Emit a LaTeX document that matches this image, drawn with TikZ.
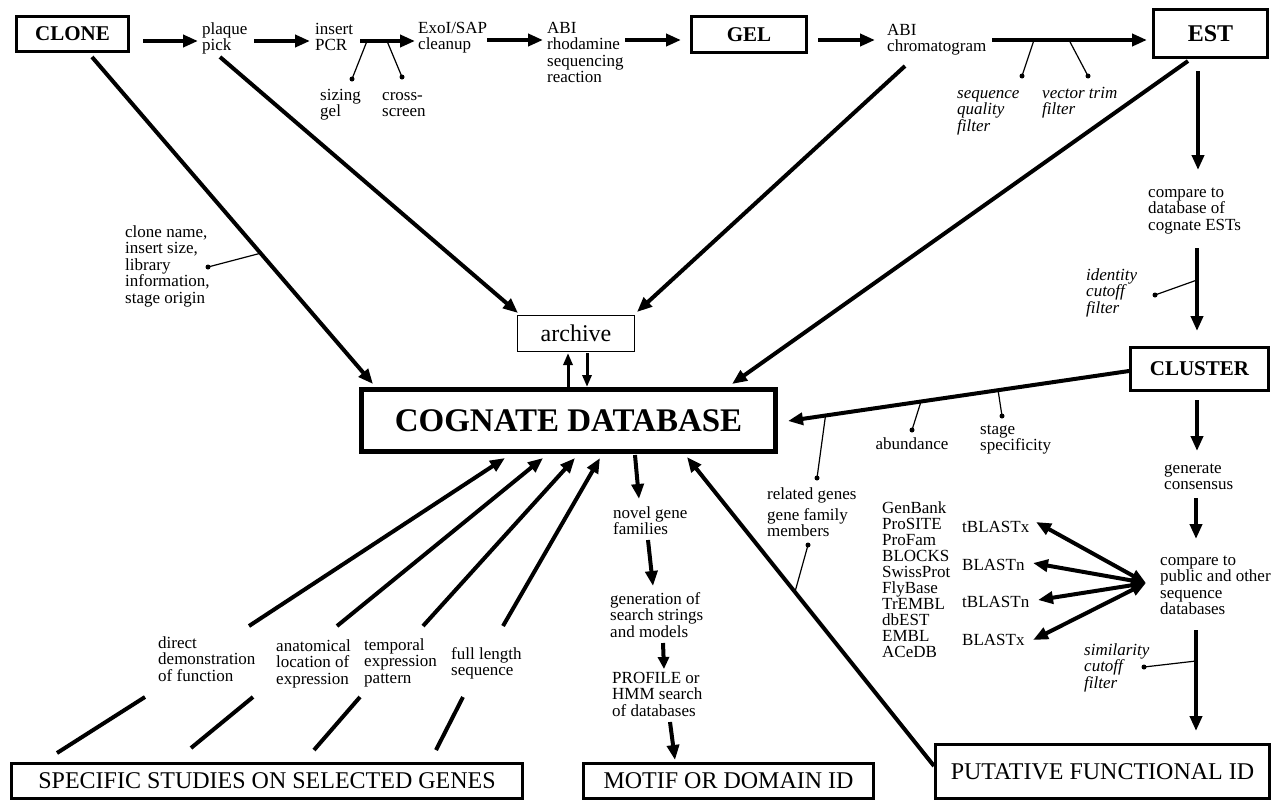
\documentclass[tikz,border=0pt]{standalone}
\usepackage{fontspec}
\setmainfont{Liberation Serif}
\usetikzlibrary{arrows.meta,calc}
\begin{document}
\begin{tikzpicture}[x=1pt,y=-1pt,
  txt/.style={inner sep=0pt, align=left, anchor=base west, font=\fontsize{17}{16.5}\selectfont},
  itx/.style={inner sep=0pt, align=left, anchor=base west, font=\fontsize{17}{16.5}\selectfont\itshape},
  bigbox/.style={draw, line width=3.5pt, inner sep=0pt, font=\fontsize{21}{21}\selectfont\bfseries},
  endbox/.style={draw, line width=3pt, inner sep=0pt, font=\fontsize{24}{24}\selectfont},
  flow/.style={line width=4pt, -{Triangle[length=15pt,width=12pt]}},
  plainline/.style={line width=4pt},
  twoway/.style={line width=4pt, {Triangle[length=15pt,width=12pt]}-{Triangle[length=15pt,width=12pt]}},
  pinline/.style={line width=1.2pt},
  dotmark/.style={circle, fill, inner sep=0pt, minimum size=5pt}
]
\useasboundingbox (0,0) rectangle (1279,804);

% ---------- boxes ----------
\node[bigbox, minimum width=112pt, minimum height=35pt] (clone) at (72.5,34) {CLONE};
\node[bigbox, minimum width=115pt, minimum height=36pt] (gel) at (749,34.5) {GEL};
\node[bigbox, minimum width=114pt, minimum height=48pt, font=\fontsize{24}{24}\selectfont\bfseries] (est) at (1210.5,33.5) {EST};
\node[draw, line width=1pt, minimum width=117pt, minimum height=36pt, inner sep=0pt, font=\fontsize{24}{24}\selectfont] (archive) at (576,333.5) {archive};
\node[draw, line width=5pt, minimum width=414pt, minimum height=62pt, inner sep=0pt, font=\fontsize{33}{33}\selectfont\bfseries] (cog) at (568.5,420.5) {COGNATE DATABASE};
\node[bigbox, minimum width=138pt, minimum height=43pt] (cluster) at (1199.5,369) {CLUSTER};
\node[endbox, minimum width=334pt, minimum height=54pt] (put) at (1102.5,771.5) {PUTATIVE FUNCTIONAL ID};
\node[endbox, minimum width=290pt, minimum height=35pt] (motif) at (728.5,781) {MOTIF OR DOMAIN ID};
\node[endbox, minimum width=511pt, minimum height=35pt] (spec) at (267,781) {SPECIFIC STUDIES ON SELECTED GENES};

% ---------- texts (anchored at the baseline of the last line) ----------
\node[txt] (plaque) at (202,50.5) {plaque\\pick};
\node[txt] (pcr) at (315,50.5) {insert\\PCR};
\node[txt] (exo) at (418,49.5) {ExoI/SAP\\cleanup};
\node[txt] (abi) at (547,82.5) {ABI\\rhodamine\\sequencing\\reaction};
\node[txt] (chrom) at (887,51.5) {ABI\\chromatogram};
\node[txt] (sizing) at (320,116.5) {sizing\\gel};
\node[txt] (cross) at (382,116.5) {cross-\\screen};
\node[itx] (sqf) at (957,131) {sequence\\quality\\filter};
\node[itx] (vtf) at (1042,114.5) {vector trim\\filter};
\node[txt] (cinfo) at (125,303) {clone name,\\insert size,\\library\\information,\\stage origin};
\node[txt] (cmpest) at (1148,230) {compare to\\database of\\cognate ESTs};
\node[itx] (icf) at (1086,313) {identity\\cutoff\\filter};
\node[txt, anchor=base] (abund) at (912,449) {abundance};
\node[txt] (stage) at (980,450.5) {stage\\specificity};
\node[txt] (gencons) at (1164,489.5) {generate\\consensus};
\node[txt] (related) at (767,499) {related genes};
\node[txt] (family) at (767,536.5) {gene family\\members};
\node[txt] (novel) at (613,534.5) {novel gene\\families};
\node[txt] (genstr) at (610,637) {generation of\\search strings\\and models};
\node[txt] (profile) at (612,716) {PROFILE or\\HMM search\\of databases};
\node[txt, font=\fontsize{17}{16}\selectfont] (dblist) at (882,657) {GenBank\\ProSITE\\ProFam\\BLOCKS\\SwissProt\\FlyBase\\TrEMBL\\dbEST\\EMBL\\ACeDB};
\node[txt] (tbx) at (962,532) {tBLASTx};
\node[txt] (bn) at (962,570) {BLASTn};
\node[txt] (tbn) at (962,607) {tBLASTn};
\node[txt] (bx) at (962,645) {BLASTx};
\node[txt] (cmppub) at (1160,614.5) {compare to\\public and other\\sequence\\databases};
\node[itx] (scf) at (1084,688) {similarity\\cutoff\\filter};
\node[txt] (direct) at (158,681) {direct\\demonstration\\of function};
\node[txt] (anat) at (276,684) {anatomical\\location of\\expression};
\node[txt] (temp) at (364,683) {temporal\\expression\\pattern};
\node[txt] (full) at (451,675.5) {full length\\sequence};

% ---------- top row ----------
\coordinate (a1s) at (143,41); \coordinate (a1e) at (198,41);
\coordinate (a2s) at (254,41); \coordinate (a2e) at (310,41);
\coordinate (a3s) at (360,41); \coordinate (a3e) at (415,41);
\coordinate (a4s) at (487,40); \coordinate (a4e) at (543,40);
\coordinate (a5s) at (625,40); \coordinate (a5e) at (681,40);
\coordinate (a6s) at (818,40); \coordinate (a6e) at (875,40);
\coordinate (a7s) at (992,40); \coordinate (a7e) at (1147,40);
\draw[flow] (a1s) -- (a1e);
\draw[flow] (a2s) -- (a2e);
\draw[flow] (a3s) -- (a3e);
\draw[flow] (a4s) -- (a4e);
\draw[flow] (a5s) -- (a5e);
\draw[flow] (a6s) -- (a6e);
\draw[flow] (a7s) -- (a7e);
\coordinate (p1) at (367,41); \node[dotmark] (d1) at (352,79) {};
\coordinate (p2) at (387,41); \node[dotmark] (d2) at (402,77) {};
\coordinate (p3) at (1034,40); \node[dotmark] (d3) at (1022,76) {};
\coordinate (p4) at (1069,40); \node[dotmark] (d4) at (1088,76) {};
\draw[pinline] (p1) -- (d1.center);
\draw[pinline] (p2) -- (d2.center);
\draw[pinline] (p3) -- (d3.center);
\draw[pinline] (p4) -- (d4.center);

% ---------- diagonals into archive / database ----------
\coordinate (c1s) at (92,57);   \coordinate (c1e) at (373,384);
\coordinate (c2s) at (220,57);  \coordinate (c2e) at (518,313);
\coordinate (c3s) at (905,66);  \coordinate (c3e) at (637,312);
\coordinate (c4s) at (1188,61); \coordinate (c4e) at (732,384);
\draw[flow] (c1s) -- (c1e);
\draw[flow] (c2s) -- (c2e);
\draw[flow] (c3s) -- (c3e);
\draw[flow] (c4s) -- (c4e);
\coordinate (p5) at ($(c1s)!0.6!(c1e)$); \node[dotmark] (d5) at (208,267) {};
\draw[pinline] (p5) -- (d5.center);

% archive <-> database
\coordinate (u1s) at (568,387); \coordinate (u1e) at (568,353);
\coordinate (u2s) at (587,353); \coordinate (u2e) at (587,387);
\draw[line width=3pt, -{Triangle[length=12pt,width=9pt]}] (u1s) -- (u1e);
\draw[line width=3pt, -{Triangle[length=12pt,width=9pt]}] (u2s) -- (u2e);

% ---------- right column ----------
\coordinate (r1s) at (1198,71);  \coordinate (r1e) at (1198,170);
\coordinate (r2s) at (1197,248); \coordinate (r2e) at (1197,331);
\coordinate (r3s) at (1197,400); \coordinate (r3e) at (1197,451);
\coordinate (r4s) at (1196,498); \coordinate (r4e) at (1196,539);
\coordinate (r5s) at (1196,630); \coordinate (r5e) at (1196,731);
\draw[flow] (r1s) -- (r1e);
\draw[flow] (r2s) -- (r2e);
\draw[flow] (r3s) -- (r3e);
\draw[flow] (r4s) -- (r4e);
\draw[flow] (r5s) -- (r5e);
\coordinate (p6) at (1197,280); \node[dotmark] (d6) at (1155,295) {};
\draw[pinline] (p6) -- (d6.center);
\coordinate (p7) at (1196,661); \node[dotmark] (d7) at (1144,667) {};
\draw[pinline] (p7) -- (d7.center);

% cluster -> database
\coordinate (k1s) at (1129,371); \coordinate (k1e) at (788,421);
\draw[flow] (k1s) -- (k1e);
\coordinate (p8) at ($(k1s)!0.61!(k1e)$); \node[dotmark] (d8) at (912,430) {};
\coordinate (p9) at ($(k1s)!0.384!(k1e)$); \node[dotmark] (d9) at (1002,416) {};
\coordinate (p10) at ($(k1s)!0.89!(k1e)$); \node[dotmark] (d10) at (817,478) {};
\draw[pinline] (p8) -- (d8.center);
\draw[pinline] (p9) -- (d9.center);
\draw[pinline] (p10) -- (d10.center);

% hub of BLAST arrows
\coordinate (hub) at (1146,583);
\coordinate (h1) at (1036,522);
\coordinate (h2) at (1033,563);
\coordinate (h3) at (1038,600);
\coordinate (h4) at (1033,640);
\draw[twoway] (h1) -- (hub);
\draw[twoway] (h2) -- (hub);
\draw[twoway] (h3) -- (hub);
\draw[twoway] (h4) -- (hub);

% putative -> database
\coordinate (q1s) at (934,766); \coordinate (q1e) at (687,457);
\draw[flow] (q1s) -- (q1e);
\coordinate (p11) at ($(q1s)!0.563!(q1e)$); \node[dotmark] (d11) at (808,545) {};
\draw[pinline] (p11) -- (d11.center);

% ---------- motif column ----------
\coordinate (m1s) at (635,455); \coordinate (m1e) at (639,499);
\coordinate (m2s) at (648,540); \coordinate (m2e) at (653,586);
\coordinate (m3s) at (663,643); \coordinate (m3e) at (664,669);
\coordinate (m4s) at (670,722); \coordinate (m4e) at (675,760);
\draw[flow] (m1s) -- (m1e);
\draw[flow] (m2s) -- (m2e);
\draw[flow, -{Triangle[length=12pt,width=11pt]}] (m3s) -- (m3e);
\draw[flow] (m4s) -- (m4e);

% ---------- specific studies ----------
\coordinate (s1s) at (249,626); \coordinate (s1e) at (505,458);
\coordinate (s2s) at (337,626); \coordinate (s2e) at (543,458);
\coordinate (s3s) at (423,626); \coordinate (s3e) at (575,458);
\coordinate (s4s) at (503,626); \coordinate (s4e) at (600,458);
\draw[flow] (s1s) -- (s1e);
\draw[flow] (s2s) -- (s2e);
\draw[flow] (s3s) -- (s3e);
\draw[flow] (s4s) -- (s4e);
\coordinate (l1s) at (57,753);  \coordinate (l1e) at (145,697);
\coordinate (l2s) at (191,748); \coordinate (l2e) at (253,697);
\coordinate (l3s) at (314,750); \coordinate (l3e) at (360,697);
\coordinate (l4s) at (436,750); \coordinate (l4e) at (463,697);
\draw[plainline] (l1s) -- (l1e);
\draw[plainline] (l2s) -- (l2e);
\draw[plainline] (l3s) -- (l3e);
\draw[plainline] (l4s) -- (l4e);
\end{tikzpicture}
\end{document}
